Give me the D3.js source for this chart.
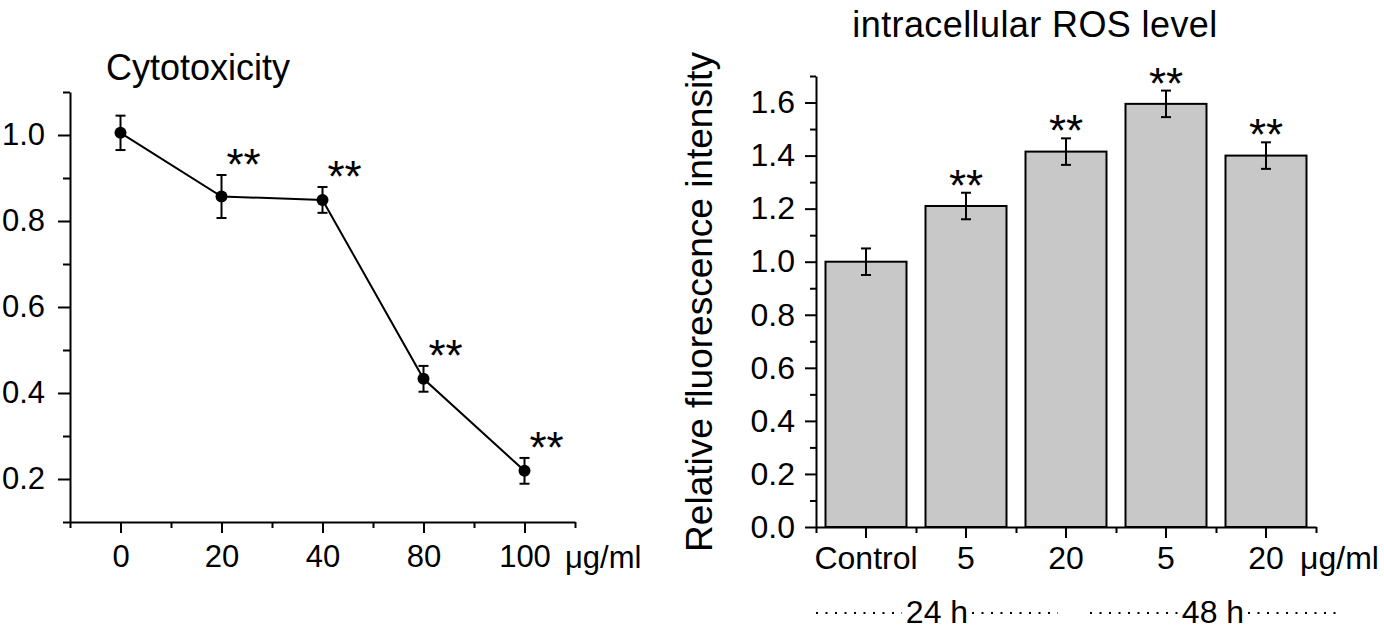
<!DOCTYPE html>
<html>
<head>
<meta charset="utf-8">
<script src="https://cdn.jsdelivr.net/npm/d3@7"></script>
<style>
  body { margin: 0; background: #fff; }
  svg text { font-family: "Liberation Sans", Arial, sans-serif; fill: #000; }
</style>
</head>
<body>
<div id="canvas"></div>
<script>
// left panel: cytotoxicity
const leftCats = ["0", "20", "40", "80", "100"];
const leftVals = [1.005, 0.857, 0.849, 0.433, 0.219];
const leftErr = [0.04, 0.05, 0.03, 0.03, 0.03];
const leftSig = ["", "**", "**", "**", "**"];
const leftTicks = [0.2, 0.4, 0.6, 0.8, 1.0];
const leftMinor = [0.1, 0.3, 0.5, 0.7, 0.9, 1.1];

// right panel: ROS
const rightCats = ["Control", "5", "20", "5", "20"];
const rightVals = [1.0, 1.21, 1.415, 1.595, 1.40];
const rightErr = [0.05, 0.05, 0.05, 0.05, 0.05];
const rightSig = ["", "**", "**", "**", "**"];
const rightTicks = [0, 0.2, 0.4, 0.6, 0.8, 1.0, 1.2, 1.4, 1.6];
const rightMinor = [0.1, 0.3, 0.5, 0.7, 0.9, 1.1, 1.3, 1.5, 1.7];
const timeGroups = ["24 h", "48 h"];
const timeSpans = [[-0.5, 1.92], [2.24, 4.7]];

const width = 1384, height = 638;
const svg = d3.select("#canvas").append("svg")
    .attr("width", width)
    .attr("height", height);

const fmt = d3.format(".1f");

function styleAxis(size) {
    return g => {
        g.selectAll("path, line").attr("stroke", "#000").attr("stroke-width", 2);
        g.selectAll("text").style("font-size", size + "px").attr("fill", "#000");
    };
}

// ---------- left ----------
const yL = d3.scaleLinear().domain([0.1, 1.1]).range([522, 92]);
const xL = d3.scalePoint().domain(leftCats).range([70, 575]).padding(0.5);
const xLmin = d3.scaleLinear().domain([-0.5, 4.5]).range([70, 575]);

let gL = svg.append("g");

gL.append("g")
    .attr("transform", "translate(70,0)")
    .call(d3.axisLeft(yL).tickValues(leftTicks).tickSize(12).tickPadding(13)
        .tickSizeOuter(0).tickFormat(fmt))
    .call(styleAxis(31));
gL.append("g")
    .attr("transform", "translate(70,0)")
    .call(d3.axisLeft(yL).tickValues(leftMinor).tickSize(7).tickFormat(""))
    .call(styleAxis(31))
    .select(".domain").remove();

gL.append("g")
    .attr("transform", `translate(0,${yL.range()[0]})`)
    .call(d3.axisBottom(xL).tickSize(11).tickPadding(12).tickSizeOuter(0))
    .call(styleAxis(31));
gL.append("g")
    .attr("transform", `translate(0,${yL.range()[0]})`)
    .call(d3.axisBottom(xLmin).tickValues([-0.5, 0.5, 1.5, 2.5, 3.5, 4.5]).tickSize(6).tickFormat(""))
    .call(styleAxis(31))
    .select(".domain").remove();

gL.append("text")
    .attr("x", 565).attr("y", 568)
    .style("font-size", "31px")
    .text("μg/ml");

gL.append("text")
    .attr("x", 198).attr("y", 80)
    .attr("text-anchor", "middle")
    .style("font-size", "36px")
    .text("Cytotoxicity");

const lineL = d3.line()
    .x((d, i) => xL(leftCats[i]))
    .y(d => yL(d));

gL.append("path")
    .datum(leftVals)
    .attr("d", lineL)
    .attr("fill", "none")
    .attr("stroke", "#000")
    .attr("stroke-width", 2);

const errL = gL.selectAll(".errL").data(leftVals).enter().append("g").attr("class", "errL");
errL.append("line")
    .attr("x1", (d, i) => xL(leftCats[i])).attr("x2", (d, i) => xL(leftCats[i]))
    .attr("y1", (d, i) => yL(d - leftErr[i])).attr("y2", (d, i) => yL(d + leftErr[i]));
errL.append("line")
    .attr("x1", (d, i) => xL(leftCats[i]) - 5).attr("x2", (d, i) => xL(leftCats[i]) + 5)
    .attr("y1", (d, i) => yL(d - leftErr[i])).attr("y2", (d, i) => yL(d - leftErr[i]));
errL.append("line")
    .attr("x1", (d, i) => xL(leftCats[i]) - 5).attr("x2", (d, i) => xL(leftCats[i]) + 5)
    .attr("y1", (d, i) => yL(d + leftErr[i])).attr("y2", (d, i) => yL(d + leftErr[i]));
errL.selectAll("line").attr("stroke", "#000").attr("stroke-width", 2);

gL.selectAll(".dotL").data(leftVals).enter().append("circle")
    .attr("class", "dotL")
    .attr("cx", (d, i) => xL(leftCats[i]))
    .attr("cy", d => yL(d))
    .attr("r", 6)
    .attr("fill", "#000");

gL.selectAll(".sigL").data(leftVals).enter().append("text")
    .attr("class", "sigL")
    .attr("x", (d, i) => xL(leftCats[i]) + 22)
    .attr("y", (d, i) => yL(d + leftErr[i]) + 5)
    .attr("text-anchor", "middle")
    .style("font-size", "44px")
    .text((d, i) => leftSig[i]);

// ---------- right ----------
const yR = d3.scaleLinear().domain([0, 1.7]).range([527, 76]);
const xR = d3.scaleBand().domain(d3.range(rightCats.length))
    .range([816, 1316]).paddingInner(0.19).paddingOuter(0.095);
const xRmin = d3.scaleLinear().domain([-0.5, 4.5]).range([816, 1316]);

let gR = svg.append("g");

gR.append("g")
    .attr("transform", "translate(816,0)")
    .call(d3.axisLeft(yR).tickValues(rightTicks).tickSize(11).tickPadding(10)
        .tickSizeOuter(0).tickFormat(fmt))
    .call(styleAxis(32));
gR.append("g")
    .attr("transform", "translate(816,0)")
    .call(d3.axisLeft(yR).tickValues(rightMinor).tickSize(6).tickFormat(""))
    .call(styleAxis(32))
    .select(".domain").remove();

gR.selectAll(".bar").data(rightVals).enter().append("rect")
    .attr("class", "bar")
    .attr("x", (d, i) => xR(i))
    .attr("y", d => yR(d))
    .attr("width", xR.bandwidth())
    .attr("height", d => yR(0) - yR(d))
    .attr("fill", "#c8c8c8")
    .attr("stroke", "#000")
    .attr("stroke-width", 2);

gR.append("g")
    .attr("transform", `translate(0,${yR(0)})`)
    .call(d3.axisBottom(xR).tickSize(11).tickPadding(8).tickSizeOuter(0)
        .tickFormat(i => rightCats[i]))
    .call(styleAxis(32));
gR.append("g")
    .attr("transform", `translate(0,${yR(0)})`)
    .call(d3.axisBottom(xRmin).tickValues([-0.5, 0.5, 1.5, 2.5, 3.5, 4.5]).tickSize(6).tickFormat(""))
    .call(styleAxis(32))
    .select(".domain").remove();

const errR = gR.selectAll(".errR").data(rightVals).enter().append("g").attr("class", "errR");
const cxR = i => xR(i) + xR.bandwidth() / 2;
errR.append("line")
    .attr("x1", (d, i) => cxR(i)).attr("x2", (d, i) => cxR(i))
    .attr("y1", (d, i) => yR(d - rightErr[i])).attr("y2", (d, i) => yR(d + rightErr[i]));
errR.append("line")
    .attr("x1", (d, i) => cxR(i) - 5).attr("x2", (d, i) => cxR(i) + 5)
    .attr("y1", (d, i) => yR(d - rightErr[i])).attr("y2", (d, i) => yR(d - rightErr[i]));
errR.append("line")
    .attr("x1", (d, i) => cxR(i) - 5).attr("x2", (d, i) => cxR(i) + 5)
    .attr("y1", (d, i) => yR(d + rightErr[i])).attr("y2", (d, i) => yR(d + rightErr[i]));
errR.selectAll("line").attr("stroke", "#000").attr("stroke-width", 2);

gR.selectAll(".sigR").data(rightVals).enter().append("text")
    .attr("class", "sigR")
    .attr("x", (d, i) => cxR(i))
    .attr("y", (d, i) => yR(d + rightErr[i]) + 8)
    .attr("text-anchor", "middle")
    .style("font-size", "44px")
    .text((d, i) => rightSig[i]);

gR.append("text")
    .attr("x", 1300).attr("y", 569)
    .style("font-size", "32px")
    .text("μg/ml");

gR.append("text")
    .attr("x", 1035).attr("y", 37)
    .attr("text-anchor", "middle")
    .style("font-size", "36px")
    .style("letter-spacing", "0.4px")
    .text("intracellular ROS level");

gR.append("text")
    .attr("transform", "translate(712,302) rotate(-90)")
    .attr("text-anchor", "middle")
    .style("font-size", "37px")
    .text("Relative fluorescence intensity");

// time groups under the axis
timeGroups.forEach((t, k) => {
    const x0 = xRmin(timeSpans[k][0]), x1 = xRmin(timeSpans[k][1]);
    const mid = (x0 + x1) / 2;
    const half = 35;
    gR.append("text")
        .attr("x", mid).attr("y", 623)
        .attr("text-anchor", "middle")
        .style("font-size", "32px")
        .text(t);
    [[x0, mid - half], [mid + half, x1]].forEach(s => {
        gR.append("line")
            .attr("x1", s[0]).attr("x2", s[1])
            .attr("y1", 613).attr("y2", 613)
            .attr("stroke", "#000")
            .attr("stroke-width", 2.2)
            .attr("stroke-dasharray", "2,7.5");
    });
});
</script>
</body>
</html>
